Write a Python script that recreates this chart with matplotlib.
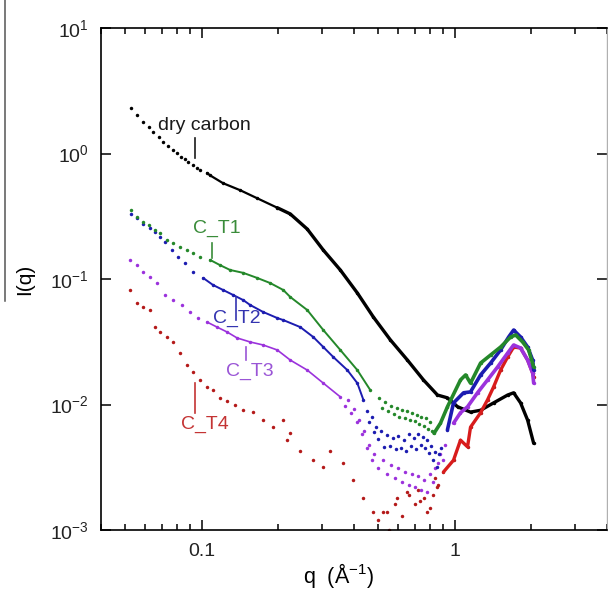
import numpy as np
from matplotlib import pyplot as plt
from matplotlib.lines import Line2D
from matplotlib.ticker import NullLocator, NullFormatter

plt.rcParams['font.family'] = ['Liberation Sans', 'DejaVu Sans']
plt.rcParams['mathtext.fontset'] = 'custom'
plt.rcParams['mathtext.rm'] = 'Liberation Sans'
plt.rcParams['mathtext.it'] = 'Liberation Sans:italic'

# scattering curves, q in 1/A, I(q) in arbitrary units
dry_q = [0.0526, 0.0555, 0.0587, 0.0620, 0.0643, 0.0679, 0.0705, 0.0738, 0.0772, 0.0800,
         0.0830, 0.0860, 0.0884, 0.0925, 0.0960, 0.0986, 0.1051, 0.1080, 0.1216, 0.1421,
         0.1659, 0.1991, 0.2242, 0.2617, 0.3029, 0.3536, 0.4129, 0.4777, 0.5579, 0.6514,
         0.7537, 0.8564, 0.9382, 1.028, 1.157, 1.268, 1.427, 1.622, 1.713, 1.825, 1.946, 2.056]
dry_i = [2.30, 2.03, 1.78, 1.63, 1.48, 1.35, 1.24, 1.15, 1.07, 1.01,
         0.94, 0.90, 0.86, 0.81, 0.77, 0.74, 0.70, 0.67, 0.58, 0.51,
         0.44, 0.37, 0.33, 0.25, 0.170, 0.118, 0.0774, 0.0498, 0.0327, 0.0226,
         0.0157, 0.0119, 0.0113, 0.0096, 0.0087, 0.0090, 0.0103, 0.0119, 0.0124, 0.0103, 0.0075, 0.0049]

t1_q = [0.0526, 0.0555, 0.0587, 0.0620, 0.0654, 0.0685, 0.0730, 0.0771, 0.0822, 0.0876,
        0.0925, 0.0986, 0.1080, 0.1183, 0.1297, 0.1460, 0.1659, 0.1867, 0.2103, 0.2242,
        0.2617, 0.3029, 0.3536, 0.4129, 0.4649,
        0.505, 0.515, 0.53, 0.545, 0.56, 0.575, 0.59, 0.605, 0.62, 0.635,
        0.65, 0.665, 0.68, 0.695, 0.71, 0.725, 0.74, 0.755, 0.77, 0.785, 0.80, 0.815,
        0.83, 0.88, 0.938, 1.056, 1.106, 1.157, 1.268, 1.389, 1.521, 1.667,
        1.745, 1.859, 1.964, 2.056]
t1_i = [0.355, 0.312, 0.284, 0.269, 0.246, 0.233, 0.205, 0.194, 0.180, 0.170,
        0.161, 0.150, 0.142, 0.129, 0.118, 0.112, 0.102, 0.0929, 0.0818, 0.0719,
        0.0566, 0.0392, 0.0272, 0.0188, 0.0130,
        0.0112, 0.0094, 0.0105, 0.0088, 0.0098, 0.0084, 0.0093, 0.0080, 0.0090, 0.0078,
        0.0088, 0.0075, 0.0086, 0.0074, 0.0083, 0.0070, 0.0080, 0.0067, 0.0078, 0.0064, 0.0072, 0.0062,
        0.0059, 0.0071, 0.0096, 0.0157, 0.0172, 0.0148, 0.0214, 0.0248, 0.0287, 0.0345,
        0.0358, 0.0315, 0.0272, 0.0199]

t2_q = [0.0526, 0.0555, 0.0587, 0.0625, 0.0654, 0.0685, 0.0717, 0.0764, 0.0807, 0.0860,
        0.0925, 0.1014, 0.1110, 0.1216, 0.1333, 0.1460, 0.1556, 0.1752, 0.1991, 0.2103,
        0.2455, 0.2764, 0.3029, 0.3317, 0.3770, 0.4129, 0.4362,
        0.45, 0.46, 0.47, 0.48, 0.49, 0.50, 0.51, 0.525, 0.54, 0.555,
        0.57, 0.585, 0.60, 0.615, 0.63, 0.645, 0.66, 0.675, 0.69, 0.705,
        0.72, 0.735, 0.75, 0.765, 0.78, 0.795, 0.81, 0.825, 0.84, 0.855, 0.87, 0.885,
        0.938, 0.991, 1.086, 1.157, 1.268, 1.389, 1.521, 1.637, 1.713, 1.825,
        1.946, 2.037, 2.056]
t2_i = [0.330, 0.306, 0.274, 0.255, 0.237, 0.216, 0.197, 0.170, 0.150, 0.134,
        0.114, 0.102, 0.0896, 0.0818, 0.0746, 0.0680, 0.0621, 0.0546, 0.0489, 0.0471,
        0.0414, 0.0345, 0.0287, 0.0239, 0.0188, 0.0148, 0.0109,
        0.0088, 0.0072, 0.0079, 0.0060, 0.0066, 0.0053, 0.0061, 0.0046, 0.0057, 0.0047,
        0.0054, 0.0044, 0.0056, 0.0045, 0.0052, 0.0043, 0.0058, 0.0047, 0.0054, 0.0044,
        0.0058, 0.0048, 0.0055, 0.0045, 0.0052, 0.0041, 0.0047, 0.0036, 0.0042, 0.0032, 0.0040, 0.0045,
        0.0063, 0.0103, 0.0124, 0.0126, 0.0172, 0.0214, 0.0272, 0.0345, 0.0392, 0.0345,
        0.0287, 0.0226, 0.0188]

t3_q = [0.0521, 0.0555, 0.0587, 0.0625, 0.0666, 0.0717, 0.0771, 0.0837, 0.0901, 0.0968,
        0.1051, 0.1151, 0.1262, 0.1382, 0.1556, 0.1752, 0.1991, 0.2242, 0.2617, 0.3029, 0.3536,
        0.37, 0.38, 0.39, 0.40, 0.41, 0.42, 0.43, 0.44, 0.45, 0.46,
        0.47, 0.48, 0.50, 0.52, 0.54, 0.56, 0.58, 0.60, 0.62, 0.64,
        0.66, 0.68, 0.70, 0.72, 0.74, 0.76, 0.78, 0.80, 0.82, 0.84, 0.86, 0.88, 0.90, 0.92,
        0.991, 1.056, 1.126, 1.233, 1.351, 1.480, 1.622, 1.713, 1.825, 1.946, 2.037, 2.056]
t3_i = [0.142, 0.129, 0.114, 0.104, 0.0929, 0.0746, 0.0680, 0.0621, 0.0546, 0.0489,
        0.0454, 0.0414, 0.0378, 0.0339, 0.0315, 0.0298, 0.0272, 0.0226, 0.0188, 0.0148, 0.0115,
        0.0098, 0.0108, 0.0085, 0.0092, 0.0072, 0.0075, 0.0058, 0.0062, 0.0045, 0.0048,
        0.0036, 0.0040, 0.0031, 0.0036, 0.0028, 0.0033, 0.0026, 0.0031, 0.0024, 0.0029,
        0.0023, 0.0028, 0.0022, 0.0027, 0.0021, 0.0025, 0.0020, 0.0028, 0.0024, 0.0031, 0.0034, 0.0040, 0.0036, 0.0048,
        0.0071, 0.0086, 0.0096, 0.0124, 0.0157, 0.0199, 0.0257, 0.0298, 0.0282, 0.0226, 0.0178, 0.0148]

t4_q = [0.0521, 0.0555, 0.0587, 0.0625, 0.0654, 0.0685, 0.0730, 0.0771, 0.0822, 0.0876,
        0.0925, 0.0986, 0.1051, 0.1110, 0.1183, 0.1262, 0.1358, 0.1460, 0.1600, 0.1752,
        0.1919, 0.2103, 0.2182, 0.2242, 0.2455, 0.2764, 0.3029, 0.3228, 0.3634, 0.3981,
        0.4362, 0.4777, 0.50, 0.52, 0.5428, 0.55, 0.58, 0.5945, 0.62, 0.6514,
        0.66, 0.70, 0.72, 0.7334, 0.76, 0.78, 0.8035, 0.82, 0.84, 0.8564, 0.86,
        0.9046, 0.9909, 1.056, 1.126, 1.157, 1.268, 1.351, 1.427, 1.521, 1.622,
        1.713, 1.825, 1.946, 2.037, 2.056]
t4_i = [0.0818, 0.0644, 0.0598, 0.0566, 0.0414, 0.0378, 0.0345, 0.0315, 0.0257, 0.0206,
        0.0181, 0.0157, 0.0138, 0.0130, 0.0113, 0.0106, 0.0099, 0.0090, 0.0087, 0.0075,
        0.0066, 0.0075, 0.0052, 0.0059, 0.0043, 0.0036, 0.0032, 0.0043, 0.0034, 0.0025,
        0.0018, 0.0014, 0.0012, 0.0014, 0.0014, 0.0010, 0.0016, 0.0018, 0.0013, 0.0020,
        0.0019, 0.0016, 0.0021, 0.0017, 0.0018, 0.0014, 0.0015, 0.0019, 0.0026, 0.0022, 0.0023,
        0.0029, 0.0036, 0.0052, 0.0046, 0.0066, 0.0086, 0.0109, 0.0138, 0.0188, 0.0239,
        0.0287, 0.0282, 0.0226, 0.0178, 0.0166]

# (q, I, colour, q-ranges where the points are dense enough to read as a line)
series = [
    (dry_q, dry_i, '#000000', [(0.1, 0.2, 1.6), (0.19, 2.1, 2.4)]),
    (t4_q, t4_i, '#d81c1c', [(0.88, 2.1, 2.4)]),
    (t3_q, t3_i, '#9b32dc', [(0.1, 0.36, 1.2), (0.95, 2.1, 2.6)]),
    (t2_q, t2_i, '#1c1cb0', [(0.1, 0.44, 1.4), (0.93, 2.1, 2.6)]),
    (t1_q, t1_i, '#24882a', [(0.1, 0.5, 1.4), (0.82, 2.1, 2.6)]),
]
point_colors = {'#d81c1c': '#b41a1a'}

# text label, text anchor (q, I), leader line q, leader I range, colour
labels = [
    ('dry carbon', 0.0673, 1.66, 0.0943, (1.33, 0.92), '#1a1a1a'),
    ('C_T1', 0.0925, 0.255, 0.110, (0.194, 0.147), '#3a8c3a'),
    ('C_T2', 0.111, 0.0489, 0.137, (0.0719, 0.0471), '#3434b0'),
    ('C_T3', 0.125, 0.0185, 0.150, (0.0287, 0.0226), '#9a55d6'),
    ('C_T4', 0.0830, 0.0070, 0.0943, (0.0148, 0.00856), '#c43434'),
]


def plot():
    fig = plt.figure(figsize=(6.08, 5.91), dpi=100)
    ax = fig.add_axes([0.166, 0.1032, 0.832, 0.8494])

    for q, inten, color, spans in series:
        q = np.asarray(q)
        inten = np.asarray(inten)
        order = np.argsort(q)
        q, inten = q[order], inten[order]
        ax.plot(q, inten, 'o', ms=2.5, mew=0, color=point_colors.get(color, color))
        for lo, hi, lw in spans:
            m = (q >= lo) & (q <= hi)
            ax.plot(q[m], inten[m], '-', lw=lw, color=color,
                    solid_capstyle='round', solid_joinstyle='round')

    for text, tq, ti, lq, (l0, l1), color in labels:
        ax.text(tq, ti, text, fontsize=14, color=color, ha='left', va='center')
        ax.plot([lq, lq], [l0, l1], color=color, lw=1.2)

    ax.set_xscale('log')
    ax.set_yscale('log')
    ax.set_xlim(0.04, 4)
    ax.set_ylim(1e-3, 1e1)
    ax.set_xticks([0.1, 1], labels=['0.1', '1'])
    ax.xaxis.set_minor_formatter(NullFormatter())
    ax.yaxis.set_minor_locator(NullLocator())

    ax.tick_params(which='both', direction='in', top=True, right=True,
                   labelsize=14, labelcolor='#222222', pad=9, width=1.1)
    ax.tick_params(which='major', length=7)
    ax.tick_params(which='minor', length=4.5)
    for side in ['left', 'bottom', 'top']:
        ax.spines[side].set_linewidth(1.2)
    ax.spines['right'].set_linewidth(1.0)
    ax.spines['right'].set_color('#b0b0b0')

    ax.set_xlabel(r'q  (Å$^{-1}$)', fontsize=15.5)
    ax.xaxis.set_label_coords(0.47, -0.062)
    ax.set_ylabel('I(q)', fontsize=15, labelpad=11)

    # thin rule running down the left margin
    fig.add_artist(Line2D([0.009, 0.009], [0.49, 1.0], transform=fig.transFigure,
                          color='#555555', lw=1.1))

    fig.savefig('out.png', dpi=100)


if __name__ == "__main__":
    plot()
